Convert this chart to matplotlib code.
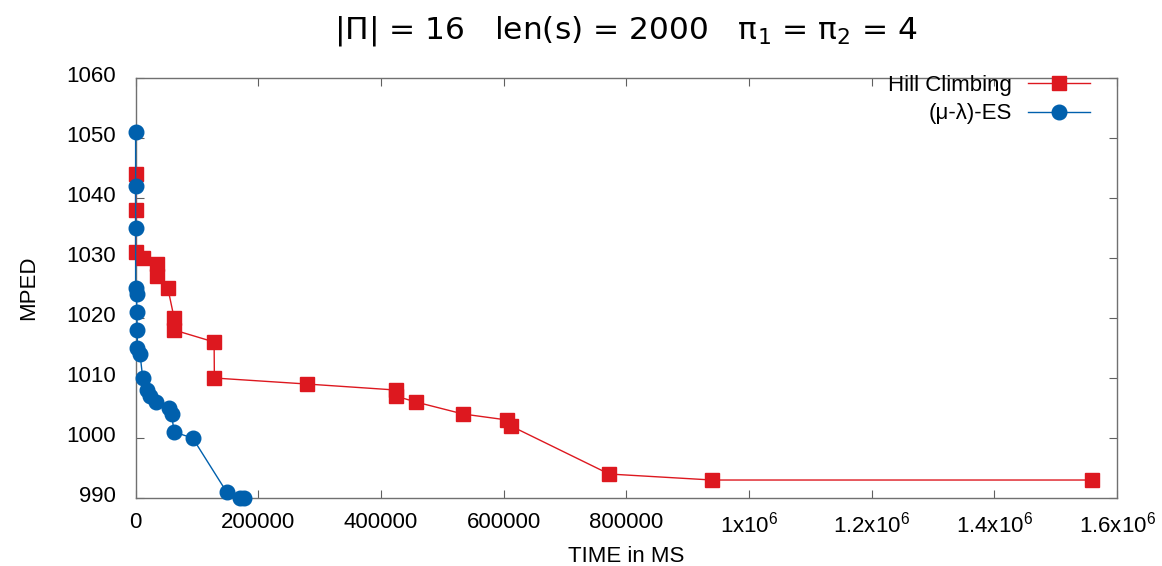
import matplotlib
matplotlib.use("Agg")
import matplotlib.pyplot as plt
from matplotlib.ticker import FixedLocator
from matplotlib.transforms import ScaledTranslation

plt.rcParams['font.family'] = ['Liberation Sans', 'DejaVu Sans']
plt.rcParams['mathtext.fontset'] = 'custom'
plt.rcParams['mathtext.rm'] = 'Liberation Sans'
plt.rcParams['mathtext.default'] = 'regular'

# Data
hc_time = [0, 0, 0, 12700, 34600, 35500, 52500, 62800, 62800, 128000, 128400,
           279000, 424000, 424000, 457000, 534000, 606000, 612000, 772000,
           940000, 1559000]
hc_mped = [1044, 1038, 1031, 1030, 1029, 1027, 1025, 1020, 1018, 1016, 1010,
           1009, 1008, 1007, 1006, 1004, 1003, 1002, 994, 993, 993]

es_time = [0, 0, 0, 0, 1800, 1800, 2800, 2800, 7200, 11600, 18000, 23500,
           33000, 54400, 58800, 62600, 93000, 148400, 170000, 176000]
es_mped = [1051, 1042, 1035, 1025, 1024, 1021, 1018, 1015, 1014, 1010, 1008,
           1007, 1006, 1005, 1004, 1001, 1000, 991, 990, 990]

xticks = [0, 200000, 400000, 600000, 800000, 1000000, 1200000, 1400000, 1600000]
xticklabels = ['0', '200000', '400000', '600000', '800000',
               '1x10$^{6}$', '1.2x10$^{6}$', '1.4x10$^{6}$', '1.6x10$^{6}$']
yticks = [990, 1000, 1010, 1020, 1030, 1040, 1050, 1060]

red = '#dd181f'
blue = '#0060ad'

fig = plt.figure(figsize=(11.62, 5.66), dpi=100)
ax = fig.add_axes([0.1167, 0.1201, 0.9613 - 0.1167, 0.8622 - 0.1201])

ax.plot(hc_time, hc_mped, color=red, lw=1.0, marker='s', markersize=10.5,
        label='Hill Climbing', clip_on=False, zorder=3)
ax.plot(es_time, es_mped, color=blue, lw=1.0, marker='o', markersize=10.5,
        label='(μ-λ)-ES', clip_on=False, zorder=4)

ax.set_xlim(0, 1600000)
ax.set_ylim(990, 1060)
ax.xaxis.set_major_locator(FixedLocator(xticks))
ax.set_xticklabels(xticklabels)
ax.yaxis.set_major_locator(FixedLocator(yticks))
ax.set_yticklabels([str(v) for v in yticks])

for s in ax.spines.values():
    s.set_color('#707070')
    s.set_linewidth(1.0)
ax.tick_params(direction='in', length=6, width=0.8, color='#606060',
               top=True, right=True, labelsize=16)
ax.tick_params(axis='x', pad=10)
ax.tick_params(axis='y', pad=14)

shift = ScaledTranslation(0, 4 / 100, fig.dpi_scale_trans)
for lab in ax.get_yticklabels():
    lab.set_transform(lab.get_transform() + shift)

ax.set_xlabel('TIME in MS', fontsize=16, labelpad=6)
ax.set_ylabel('MPED', fontsize=16, labelpad=20)

fig.suptitle('|Π| = 16   len(s) = 2000   π$_{1}$ = π$_{2}$ = 4',
             fontsize=22.5, y=0.945, x=0.539, va='center',
             family='DejaVu Sans', math_fontfamily='dejavusans')

leg = ax.legend(loc='upper right', frameon=False, markerfirst=False,
                fontsize=16, handlelength=2.8, handletextpad=0.7,
                borderpad=0, borderaxespad=0, labelspacing=0.35,
                bbox_to_anchor=(0.9725, 1.008))

fig.savefig('out.png', dpi=100)
